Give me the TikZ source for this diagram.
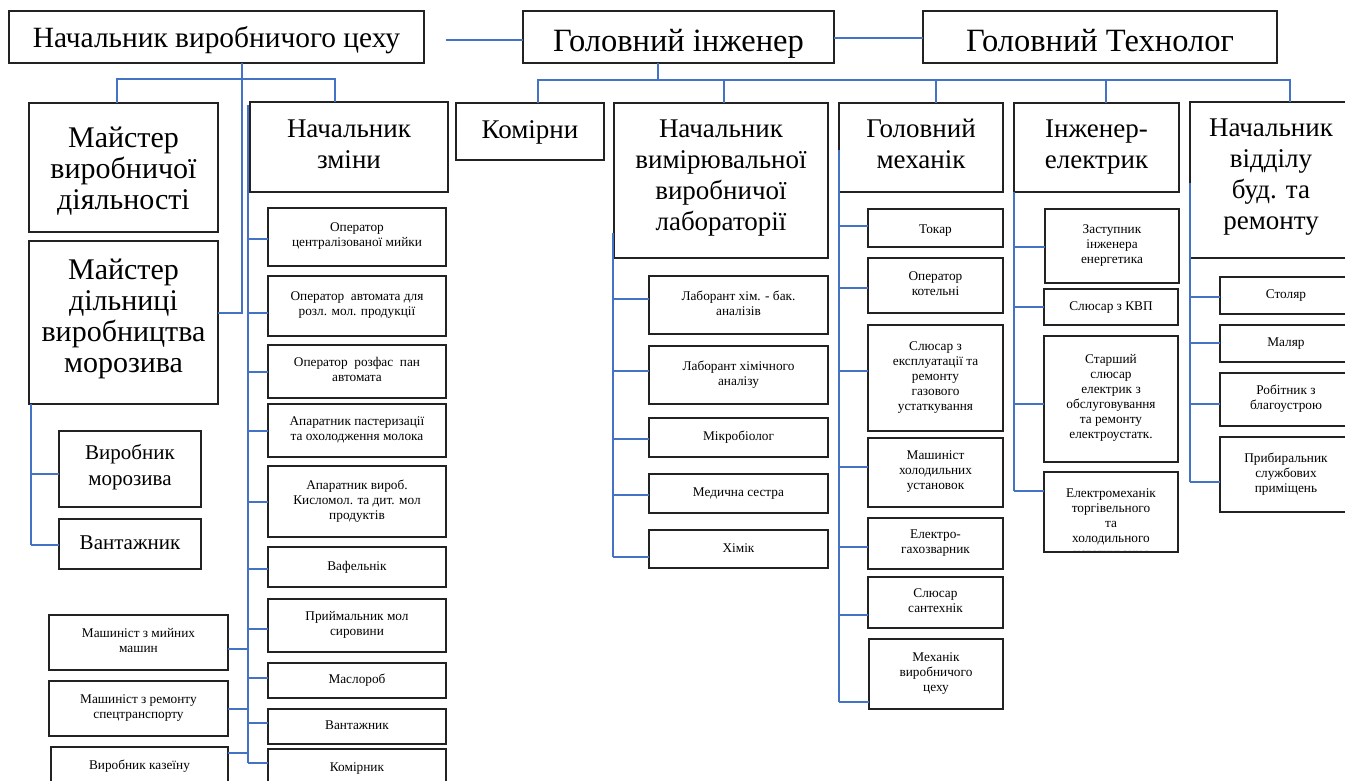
\documentclass[tikz,border=0pt]{standalone}
\usepackage{fontspec}
\setmainfont{Liberation Serif}
\newcommand\fA{\fontsize{29.4}{34}\selectfont}
\newcommand\fAA{\fontsize{32.5}{38}\selectfont}
\newcommand\fB{\fontsize{27}{31}\selectfont}
\newcommand\fBB{\fontsize{30}{31}\selectfont}
\newcommand\fC{\fontsize{21}{26}\selectfont}
\newcommand\fD{\fontsize{13.3}{15}\selectfont}
\definecolor{conncol}{HTML}{4472C4}
\definecolor{boxcol}{HTML}{222222}
\tikzset{
  box/.style={draw=boxcol,line width=1.3pt,rectangle,inner sep=0pt,outer sep=0pt,fill=white},
  txt/.style={inner sep=0pt,outer sep=0pt,align=center,text=black,
    execute at begin node=\strut,execute at end node=\strut},
  conn/.style={draw=conncol,line width=1.2pt}
}
% [downward text shift], name, x1, y1, x2, y2, font, text
\newcommand\obox[8][0]{%
  \node[box,minimum width={#5pt-#3pt},minimum height={#6pt-#4pt}] (#2) at ({(#3+#5)/2},{(#4+#6)/2}) {};
  \node[txt,font=#7] (#2t) at ([yshift=-#1pt]#2.center) {#8};}
\newcommand\br[3]{\draw[conn] (#1,#3) -- (#2 |- 0,#3);}
\begin{document}
\begin{tikzpicture}[x=1pt,y=-1pt]
\useasboundingbox (0,0) rectangle (1345,780);
\fill[white] (0,0) rectangle (1345,780);
% top row
\obox[4]{A}{9}{11}{424}{63}{\fA}{Начальник виробничого цеху}
\obox[7]{B}{523}{11}{834}{63}{\fAA}{Головний інженер}
\obox[7]{C}{923}{11}{1277}{63}{\fAA}{Головний Технолог}
% second level
\obox[5]{M1}{29}{103}{218}{232}{\fBB}{Майстер\\виробничої\\діяльності}
\obox[-2]{M2}{29}{241}{218}{404}{\fBB}{Майстер\\дільниці\\виробництва\\морозива}
\obox[1.5]{NZ}{250}{102}{448}{192}{\fB}{Начальник\\зміни}
\obox[1]{K}{456}{103}{604}{160}{\fB}{Комірни}
\obox[-1]{L}{614}{103}{828}{258}{\fB}{Начальник\\вимірювальної\\виробничої\\лабораторії}
\obox[1]{GM}{839}{103}{1003}{192}{\fB}{Головний\\механік}
\obox[1]{IE}{1014}{103}{1179}{192}{\fB}{Інженер-\\електрик}
\obox[-1]{NV}{1190}{102}{1352}{258}{\fB}{Начальник\\відділу\\буд. та\\ремонту}
% under Майстер дільниці
\obox{VM}{59}{431}{201}{507}{\fC}{Виробник\\морозива}
\obox{V1}{59}{519}{201}{569}{\fC}{Вантажник}
% Начальник зміни column
\obox{o1}{268}{208}{446}{266}{\fD}{Оператор\\централізованої мийки}
\obox{o2}{268}{276}{446}{336}{\fD}{Оператор~~автомата для\\розл. мол. продукції}
\obox{o3}{268}{345}{446}{398}{\fD}{Оператор~~розфас~~пан\\автомата}
\obox{o4}{268}{404}{446}{457}{\fD}{Апаратник пастеризації\\та охолодження молока}
\obox{o5}{268}{466}{446}{537}{\fD}{Апаратник вироб.\\Кисломол. та дит. мол\\продуктів}
\obox{o6}{268}{547}{446}{587}{\fD}{Вафельнік}
\obox{o7}{268}{599}{446}{652}{\fD}{Приймальник мол\\сировини}
\obox{o8}{268}{663}{446}{698}{\fD}{Маслороб}
\obox{o9}{268}{709}{446}{744}{\fD}{Вантажник}
\obox{o10}{268}{749}{446}{787}{\fD}{Комірник}
% machinists on the left
\obox{ms1}{49}{615}{228}{670}{\fD}{Машиніст з мийних\\машин}
\obox{ms2}{49}{681}{228}{736}{\fD}{Машиніст з ремонту\\спецтранспорту}
\obox{ms3}{51}{747}{228}{785}{\fD}{Виробник казеїну}
% laboratory
\obox{l1}{649}{276}{828}{334}{\fD}{Лаборант хім. - бак.\\аналізів}
\obox{l2}{649}{346}{828}{404}{\fD}{Лаборант хімічного\\аналізу}
\obox{l3}{649}{418}{828}{457}{\fD}{Мікробіолог}
\obox{l4}{649}{474}{828}{513}{\fD}{Медична сестра}
\obox{l5}{649}{530}{828}{568}{\fD}{Хімік}
% mechanic
\obox[2]{m1}{868}{209}{1003}{247}{\fD}{Токар}
\obox{m2}{868}{258}{1003}{313}{\fD}{Оператор\\котельні}
\obox{m3}{868}{325}{1003}{431}{\fD}{Слюсар з\\експлуатації та\\ремонту\\газового\\устаткування}
\obox{m4}{868}{438}{1003}{507}{\fD}{Машиніст\\холодильних\\установок}
\obox{m5}{868}{518}{1003}{569}{\fD}{Електро-\\гахозварник}
\obox{m6}{868}{577}{1003}{628}{\fD}{Слюсар\\сантехнік}
\obox{m7}{869}{639}{1003}{709}{\fD}{Механік\\виробничого\\цеху}
% electrician
\obox{e1}{1045}{209}{1179}{283}{\fD}{Заступник\\інженера\\енергетика}
\obox{e2}{1044}{289}{1178}{325}{\fD}{Слюсар з КВП}
\obox{e3}{1044}{336}{1178}{462}{\fD}{Старший\\слюсар\\електрик з\\обслуговування\\та ремонту\\електроустатк.}
\node[box,minimum width=134pt,minimum height=80pt,
  path picture={\node[anchor=north,align=center,font=\fD,inner sep=0pt] (e4t) at ([yshift=-13pt]path picture bounding box.north) {Електромеханік\\торгівельного\\та\\холодильного\\устаткування};}]
  (e4) at (1111,512) {};
% building dept
\obox{b1}{1220}{277}{1352}{314}{\fD}{Столяр}
\obox{b2}{1220}{325}{1352}{362}{\fD}{Маляр}
\obox{b3}{1220}{373}{1352}{426}{\fD}{Робітник з\\благоустрою}
\obox{b4}{1220}{437}{1352}{512}{\fD}{Прибиральник\\службових\\приміщень}
% ---------- connectors ----------
\coordinate (Aend) at (446,40);
\draw[conn] (Aend) -- (B.west |- 0,40);
\draw[conn] (B.east |- 0,38) -- (C.west |- 0,38);
% Начальник виробничого цеху
\draw[conn] (242,0 |- A.south) -- (242,313) -- (M2.east |- 0,313);
\draw[conn] (117,0 |- M1.north) -- (117,79) -- (335,79) -- (335,0 |- NZ.north);
% Майстер дільниці
\draw[conn] (31,0 |- M2.south) -- (31,545);
\br{31}{VM.west}{474}
\br{31}{V1.west}{545}
% Начальник зміни
\draw[conn] (248,105) -- (248,763);
\br{248}{o1.west}{239}
\br{248}{o2.west}{313}
\br{248}{o3.west}{372}
\br{248}{o4.west}{431}
\br{248}{o5.west}{502}
\br{248}{o6.west}{569}
\br{248}{o7.west}{629}
\br{248}{o8.west}{678}
\br{248}{o9.west}{723}
\br{248}{o10.west}{763}
\br{248}{ms1.east}{649}
\br{248}{ms2.east}{709}
\br{248}{ms3.east}{753}
% Головний інженер
\draw[conn] (658,0 |- B.south) -- (658,80);
\draw[conn] (538,0 |- K.north) -- (538,80) -- (1290,80) -- (1290,0 |- NV.north);
\draw[conn] (724,80) -- (724,0 |- L.north);
\draw[conn] (936,80) -- (936,0 |- GM.north);
\draw[conn] (1106,80) -- (1106,0 |- IE.north);
% laboratory
\draw[conn] (613,233) -- (613,557);
\br{613}{l1.west}{299}
\br{613}{l2.west}{371}
\br{613}{l3.west}{439}
\br{613}{l4.west}{495}
\br{613}{l5.west}{557}
% mechanic
\draw[conn] (839,150) -- (839,702);
\br{839}{m1.west}{226}
\br{839}{m2.west}{288}
\br{839}{m3.west}{371}
\br{839}{m4.west}{467}
\br{839}{m5.west}{547}
\br{839}{m6.west}{615}
\br{839}{m7.west}{702}
% electrician
\draw[conn] (1014,0 |- IE.south) -- (1014,491);
\br{1014}{e1.west}{247}
\br{1014}{e2.west}{307}
\br{1014}{e3.west}{404}
\br{1014}{e4.west}{491}
% building dept
\draw[conn] (1190,183) -- (1190,482);
\br{1190}{b1.west}{297}
\br{1190}{b2.west}{343}
\br{1190}{b3.west}{404}
\br{1190}{b4.west}{482}
\end{tikzpicture}
\end{document}
